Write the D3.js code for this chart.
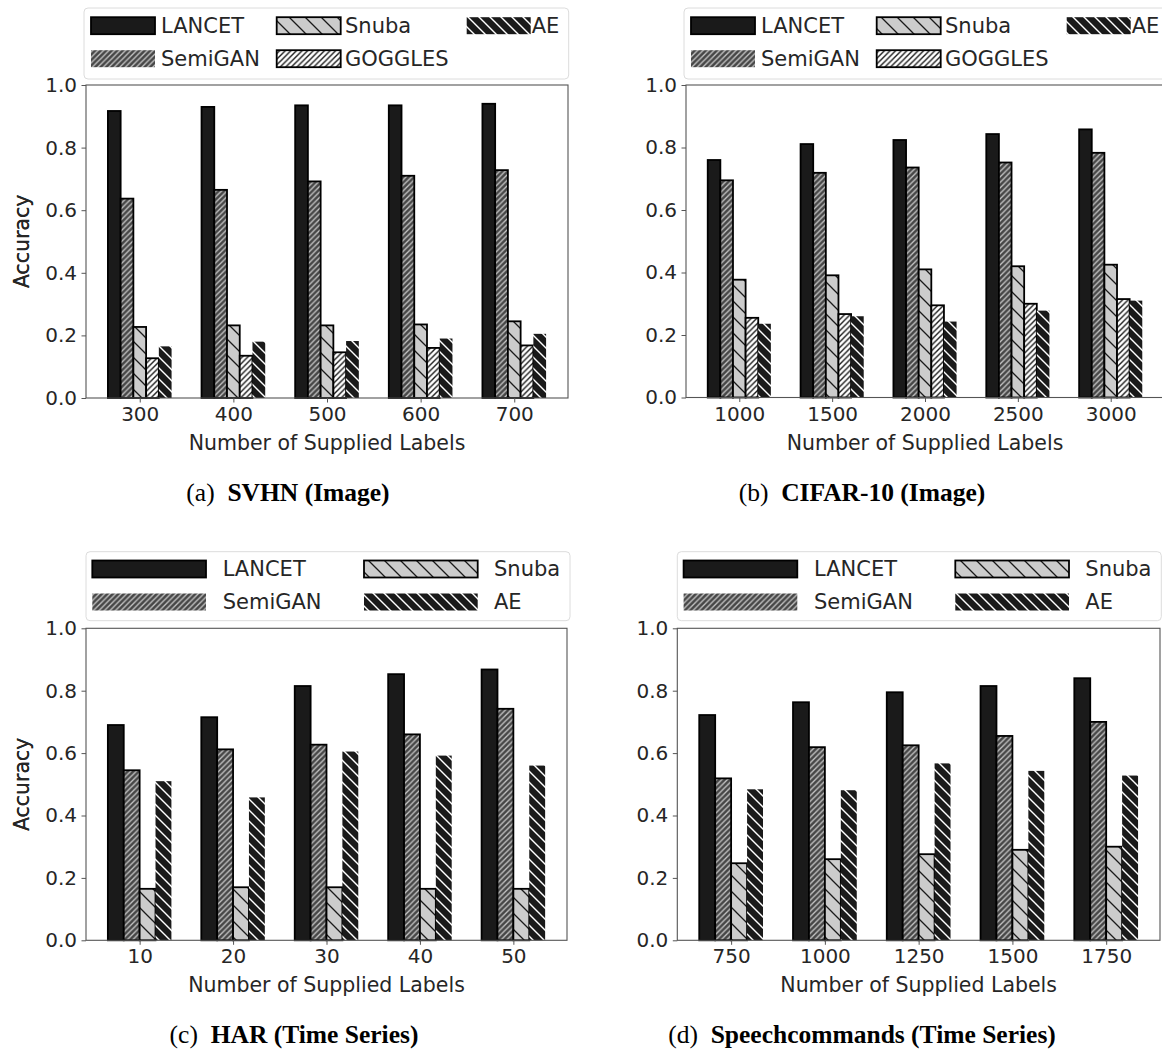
<!DOCTYPE html>
<html>
<head>
<meta charset="utf-8">
<script src="https://cdn.jsdelivr.net/npm/d3@7"></script>
<style>
  body { margin: 0; background: #fff; }
  svg text { font-family: "DejaVu Sans", sans-serif; }
</style>
</head>
<body>
<div id="chart"></div>
<script>
// series names
const methods5 = ['LANCET', 'SemiGAN', 'Snuba', 'GOGGLES', 'AE'];
const methods4 = ['LANCET', 'SemiGAN', 'Snuba', 'AE'];

// (a) SVHN
const svhnLabels = ['300', '400', '500', '600', '700'];
const svhnLancet = [0.917, 0.930, 0.935, 0.935, 0.940];
const svhnSemigan = [0.637, 0.665, 0.692, 0.710, 0.728];
const svhnSnuba = [0.227, 0.232, 0.232, 0.235, 0.245];
const svhnGoggles = [0.127, 0.135, 0.146, 0.160, 0.168];
const svhnAe = [0.165, 0.180, 0.182, 0.190, 0.205];

// (b) CIFAR-10
const cifarLabels = ['1000', '1500', '2000', '2500', '3000'];
const cifarLancet = [0.760, 0.811, 0.824, 0.843, 0.858];
const cifarSemigan = [0.695, 0.719, 0.736, 0.752, 0.783];
const cifarSnuba = [0.377, 0.391, 0.410, 0.420, 0.425];
const cifarGoggles = [0.255, 0.267, 0.295, 0.300, 0.315];
const cifarAe = [0.236, 0.260, 0.243, 0.278, 0.310];

// (c) HAR
const harLabels = ['10', '20', '30', '40', '50'];
const harLancet = [0.690, 0.715, 0.815, 0.853, 0.868];
const harSemigan = [0.545, 0.612, 0.627, 0.660, 0.742];
const harSnuba = [0.165, 0.170, 0.170, 0.165, 0.165];
const harAe = [0.510, 0.458, 0.605, 0.592, 0.560];

// (d) Speechcommands
const speechLabels = ['750', '1000', '1250', '1500', '1750'];
const speechLancet = [0.722, 0.763, 0.795, 0.815, 0.840];
const speechSemigan = [0.519, 0.619, 0.625, 0.655, 0.700];
const speechSnuba = [0.247, 0.260, 0.276, 0.290, 0.300];
const speechAe = [0.484, 0.481, 0.567, 0.543, 0.528];

const yTicks = [0, 0.2, 0.4, 0.6, 0.8, 1.0];

const panels = [
  { left: 86, right: 568, top: 85, bottom: 398, labels: svhnLabels, names: methods5,
    values: [svhnLancet, svhnSemigan, svhnSnuba, svhnGoggles, svhnAe],
    tag: '(a)', title: 'SVHN (Image)', capX: 288, capY: 501 },
  { left: 686, right: 1164, top: 85, bottom: 397.5, labels: cifarLabels, names: methods5,
    values: [cifarLancet, cifarSemigan, cifarSnuba, cifarGoggles, cifarAe],
    tag: '(b)', title: 'CIFAR-10 (Image)', capX: 862, capY: 501 },
  { left: 86, right: 567, top: 628.3, bottom: 940.3, labels: harLabels, names: methods4,
    values: [harLancet, harSemigan, harSnuba, harAe],
    tag: '(c)', title: 'HAR (Time Series)', capX: 294, capY: 1043 },
  { left: 677.3, right: 1160, top: 628.3, bottom: 940.3, labels: speechLabels, names: methods4,
    values: [speechLancet, speechSemigan, speechSnuba, speechAe],
    tag: '(d)', title: 'Speechcommands (Time Series)', capX: 862, capY: 1043 }
];

const svg = d3.select('#chart').append('svg')
  .attr('width', 1162)
  .attr('height', 1053);

// hatch patterns
const defs = svg.append('defs');
const hatch = (id, size, bg, fg, sw, dir) => {
  const p = defs.append('pattern')
    .attr('id', id)
    .attr('patternUnits', 'userSpaceOnUse')
    .attr('width', size).attr('height', size);
  p.append('rect').attr('width', size).attr('height', size).attr('fill', bg);
  const s = size;
  const d = dir === '/'
    ? `M0,${s} L${s},0 M${-s / 2},${s / 2} L${s / 2},${-s / 2} M${s / 2},${s * 1.5} L${s * 1.5},${s / 2}`
    : `M0,0 L${s},${s} M${-s / 2},${s / 2} L${s / 2},${s * 1.5} M${s / 2},${-s / 2} L${s * 1.5},${s / 2}`;
  p.append('path').attr('d', d).attr('stroke', fg).attr('stroke-width', sw);
};
hatch('h-semigan', 5.5, '#474747', '#c4c4c4', 1.3, '/');
hatch('h-snuba', 16, '#cccccc', '#1a1a1a', 1.3, '\\');
hatch('h-goggles', 5.6, '#ffffff', '#1a1a1a', 1.4, '/');
hatch('h-ae', 11, '#1a1a1a', '#ffffff', 1.4, '\\');

const styles = {
  LANCET: { fill: '#1a1a1a', stroke: '#000', legendStroke: true },
  SemiGAN: { fill: 'url(#h-semigan)', stroke: '#000', legendStroke: false },
  Snuba: { fill: 'url(#h-snuba)', stroke: '#000', legendStroke: true },
  GOGGLES: { fill: 'url(#h-goggles)', stroke: '#000', legendStroke: true },
  AE: { fill: 'url(#h-ae)', stroke: 'none', legendStroke: false }
};

// legend layouts: column offsets of handles and text from the plot's left edge
const legend5 = { dx: -2, dy: -77, w: 484.7, h: 71, hw: 64, cols: [5, 190.7, 380.7], texts: [75, 259, 445.7] };
const legend4 = { dx: 0, dy: -76.6, w: 484, h: 69, hw: 113.7, cols: [6.3, 278], texts: [136.7, 408] };

panels.forEach(p => {
  const n = p.names.length;
  const w = 0.68 / n;
  const lo = -n * w / 2, hi = p.labels.length - 1 + n * w / 2;
  const m = 0.05 * (hi - lo);
  const x = d3.scaleLinear().domain([lo - m, hi + m]).range([p.left, p.right]);
  const y = d3.scaleLinear().domain([0, 1]).range([p.bottom, p.top]);
  const g = svg.append('g');

  // bars
  p.names.forEach((name, si) => {
    const st = styles[name];
    g.selectAll(null)
      .data(p.values[si])
      .enter().append('rect')
      .attr('x', (d, i) => x(i + (si - (n - 1) / 2) * w - w / 2))
      .attr('width', x(w) - x(0))
      .attr('y', d => y(d))
      .attr('height', d => y(0) - y(d))
      .attr('fill', st.fill)
      .attr('stroke', st.stroke)
      .attr('stroke-width', 1.8);
  });

  // frame
  g.append('rect')
    .attr('x', p.left).attr('y', p.top)
    .attr('width', p.right - p.left).attr('height', p.bottom - p.top)
    .attr('fill', 'none').attr('stroke', '#555').attr('stroke-width', 1.1);

  // axes
  const yAxis = g.append('g')
    .attr('transform', `translate(${p.left},0)`)
    .call(d3.axisLeft(y).tickValues(yTicks).tickFormat(d3.format('.1f'))
      .tickSize(4.5).tickPadding(4.5).tickSizeOuter(0));
  const xAxis = g.append('g')
    .attr('transform', `translate(0,${p.bottom})`)
    .call(d3.axisBottom(x).tickValues(d3.range(p.labels.length))
      .tickFormat(i => p.labels[i]).tickSize(4.5).tickPadding(4.5).tickSizeOuter(0));
  [yAxis, xAxis].forEach(a => {
    a.select('.domain').remove();
    a.selectAll('line').attr('stroke', '#555');
    a.selectAll('text').attr('fill', '#262626')
      .style('font-size', '20px').style('font-family', '"DejaVu Sans", sans-serif');
  });

  g.append('text')
    .attr('transform', `translate(22,${(p.top + p.bottom) / 2}) rotate(-90)`)
    .attr('text-anchor', 'middle').attr('dominant-baseline', 'central')
    .attr('fill', '#262626').style('font-size', '20.5px')
    .text('Accuracy');
  g.append('text')
    .attr('x', (p.left + p.right) / 2).attr('y', p.bottom + 52)
    .attr('text-anchor', 'middle')
    .attr('fill', '#262626').style('font-size', '20.5px')
    .text('Number of Supplied Labels');

  // legend
  const lg = n === 5 ? legend5 : legend4;
  g.append('rect')
    .attr('x', p.left + lg.dx).attr('y', p.top + lg.dy).attr('width', lg.w).attr('height', lg.h)
    .attr('rx', 4).attr('fill', 'rgba(255,255,255,0.8)')
    .attr('stroke', '#dcdcdc').attr('stroke-width', 1);
  p.names.forEach((name, i) => {
    const col = Math.floor(i / 2), row = i % 2;
    const cy = p.top + (row === 0 ? -59.3 : -26.3);
    const st = styles[name];
    g.append('rect')
      .attr('x', p.left + lg.cols[col]).attr('y', cy - 8.5).attr('width', lg.hw).attr('height', 17)
      .attr('fill', st.fill)
      .attr('stroke', st.legendStroke ? '#000' : 'none').attr('stroke-width', 1.8);
    g.append('text')
      .attr('x', p.left + lg.texts[col]).attr('y', cy)
      .attr('dominant-baseline', 'central')
      .attr('fill', '#262626').style('font-size', '21px')
      .text(name);
  });

  // caption
  const cap = svg.append('text')
    .attr('x', p.capX).attr('y', p.capY)
    .attr('text-anchor', 'middle')
    .style('font-family', '"Liberation Serif", serif')
    .style('font-size', '25.5px').attr('fill', '#000');
  cap.append('tspan').text(p.tag + '\u2002');
  cap.append('tspan').attr('font-weight', 'bold').text(p.title);
});
</script>
</body>
</html>
